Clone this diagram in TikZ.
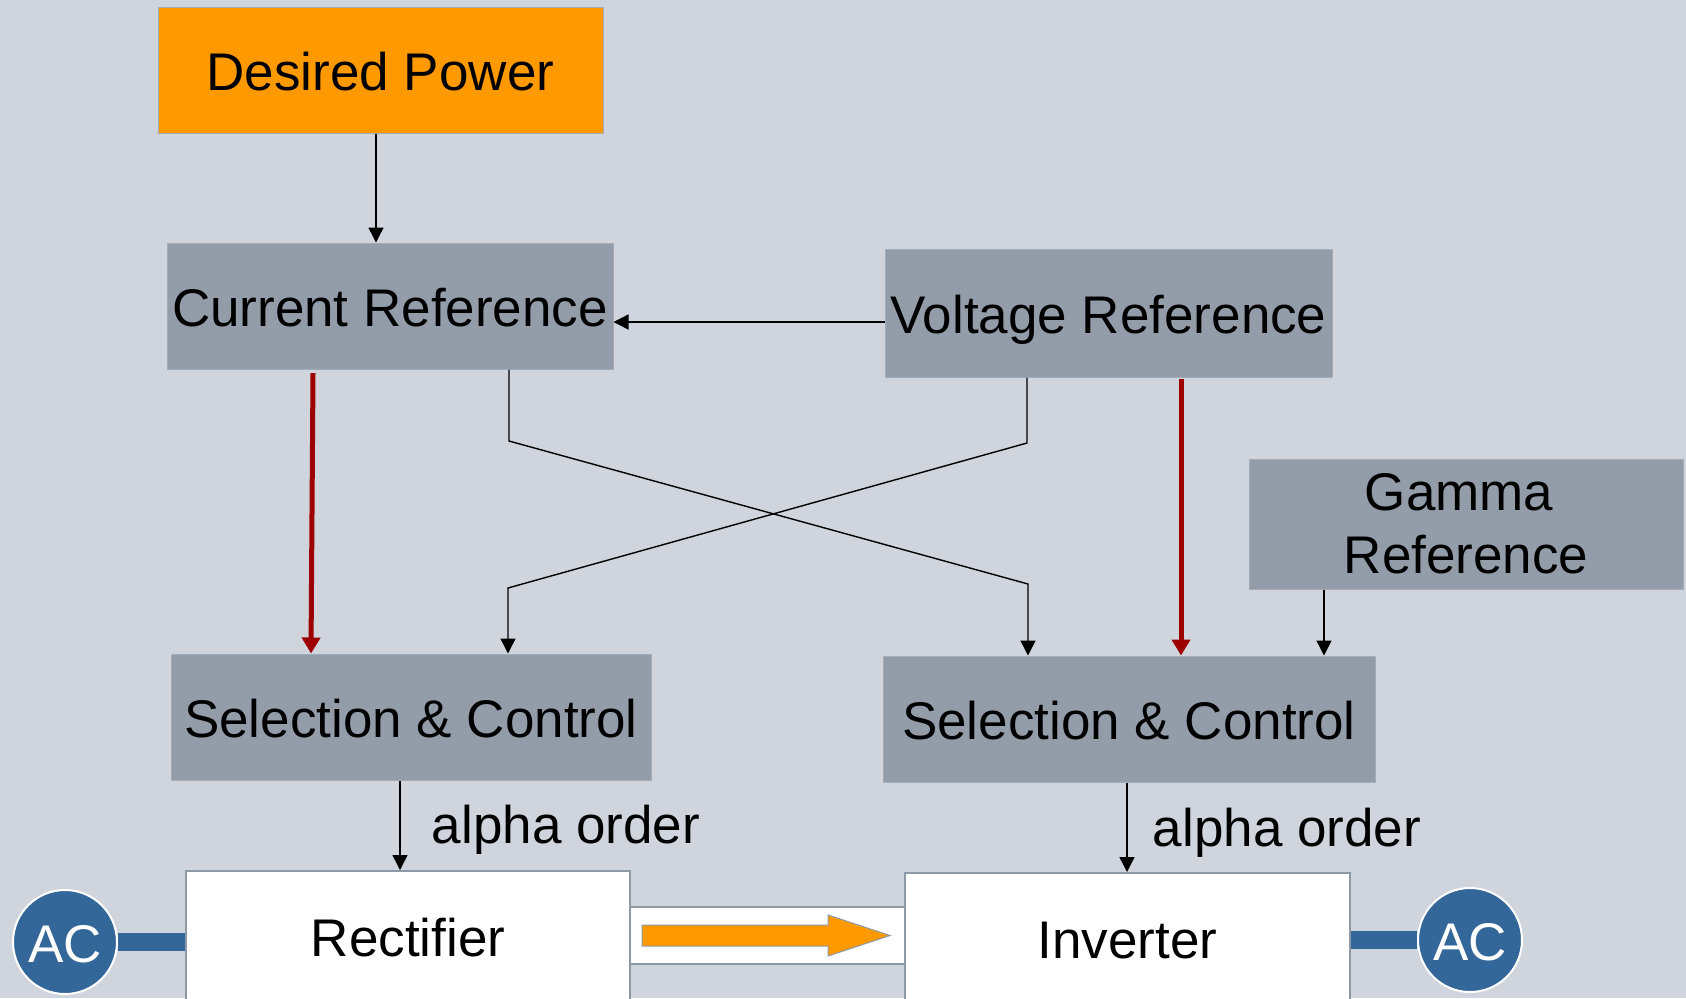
\documentclass[tikz,border=0pt]{standalone}
\usepackage{fontspec}
\setmainfont{Liberation Sans}
\usetikzlibrary{arrows.meta,calc}
\definecolor{bg}{HTML}{D0D4DC}
\definecolor{boxgray}{HTML}{939DAA}
\definecolor{boxedge}{HTML}{A3ADBA}
\definecolor{orangebox}{HTML}{FF9900}
\definecolor{acblue}{HTML}{336699}
\definecolor{darkred}{HTML}{9C0000}
\definecolor{frame}{HTML}{8E99A6}
\begin{document}
\begin{tikzpicture}[x=0.5pt,y=-0.5pt,
  txtbase/.style={font=\fontsize{26.5}{31.5}\selectfont},
  txt/.style={txtbase, text height=23.3pt, text depth=2.65pt},
  boxbase/.style={fill=boxgray, draw=boxedge, line width=0.5pt, inner sep=0pt, align=center},
  box/.style={txt, boxbase},
  twoline/.style={txtbase, boxbase},
  whitebox/.style={txt, fill=white, draw=frame, line width=1pt, inner sep=0pt},
  acnode/.style={circle, txt, fill=acblue, draw=white, line width=1pt, text=white, minimum size=52pt, inner sep=0pt},
  arr/.style={line width=0.7pt, -{Triangle[length=7.5pt,width=7.5pt]}},
  redarr/.style={darkred, line width=2.5pt, -{Triangle[length=8pt,width=9pt]}},
  bar/.style={acblue, line width=9pt}]
\useasboundingbox (0,0) rectangle (1686,998);
\clip (0,0) rectangle (1686,998);
\fill[bg] (0,0) rectangle (1686,998);

% nodes
\node[box, fill=orangebox, draw=boxedge, minimum width=222.5pt, minimum height=63pt] (dp) at (380.5,70) {Desired Power};
\node[box, minimum width=223pt, minimum height=63pt] (cr) at (390,306) {Current Reference};
\node[box, minimum width=223.5pt, minimum height=64pt] (vr) at (1108.5,313) {Voltage Reference};
\node[twoline, minimum width=217pt, minimum height=65pt] (gr) at (1466,524) {Gamma\hspace*{7pt}\\Reference};
\node[box, minimum width=240pt, minimum height=63pt] (sl) at (411,717) {Selection \& Control};
\node[box, minimum width=246pt, minimum height=63pt] (sr) at (1129,719) {Selection \& Control};
\node[whitebox, minimum width=222pt, minimum height=65pt] (rect) at (408,936) {Rectifier};
\node[whitebox, minimum width=222.5pt, minimum height=65pt] (inv) at (1127.5,938) {Inverter};
\node[whitebox, minimum width=137.5pt, minimum height=28.5pt] (mid) at (767.5,935.5) {};
\node[acnode] (acl) at (65,942) {AC};
\node[acnode] (acr) at (1470,940) {AC};

% labels
\node[txt] (al) at (566,823) {alpha order};
\node[txt] (ar) at (1287,826) {alpha order};

% orange power arrow
\draw[shift={(mid.center)}, fill=orangebox, draw=frame, line width=0.5pt]
  (-125.5,-10.5) -- (60.5,-10.5) -- (60.5,-20.5) -- (122.5,0) -- (60.5,20.5) -- (60.5,10.5) -- (-125.5,10.5) -- cycle;

% AC connection bars
\draw[bar] (acl.east |- 0,942) -- (rect.west |- 0,942);
\draw[bar] (inv.east |- 0,940) -- (acr.west |- 0,940);

% black arrows
\coordinate (c1) at (376,0);
\draw[arr] (c1 |- dp.south) -- (c1 |- cr.north);
\coordinate (c2) at (0,322);
\draw[arr] (vr.west |- c2) -- (cr.east |- c2);
\coordinate (c3) at (1324,0);
\draw[arr] (c3 |- gr.south) -- (c3 |- sr.north);
\coordinate (c4) at (400,0);
\draw[arr] (c4 |- sl.south) -- (c4 |- rect.north);
\coordinate (c5) at (1127,0);
\draw[arr] (c5 |- sr.south) -- (c5 |- inv.north);

% crossing connectors
\coordinate (a1) at (509,441);
\coordinate (a2) at (1028,584);
\draw[arr] (a1 |- cr.south) -- (a1) -- (a2) -- (a2 |- sr.north);
\coordinate (b1) at (1027,443);
\coordinate (b2) at (508,588);
\draw[arr] (b1 |- vr.south) -- (b1) -- (b2) -- (b2 |- sl.north);

% red arrows
\coordinate (r1) at (313,373);
\coordinate (r2) at (311,0);
\draw[redarr] (r1) -- (r2 |- sl.north);
\coordinate (r3) at (1181,379);
\draw[redarr] (r3) -- (r3 |- sr.north);
\end{tikzpicture}
\end{document}
